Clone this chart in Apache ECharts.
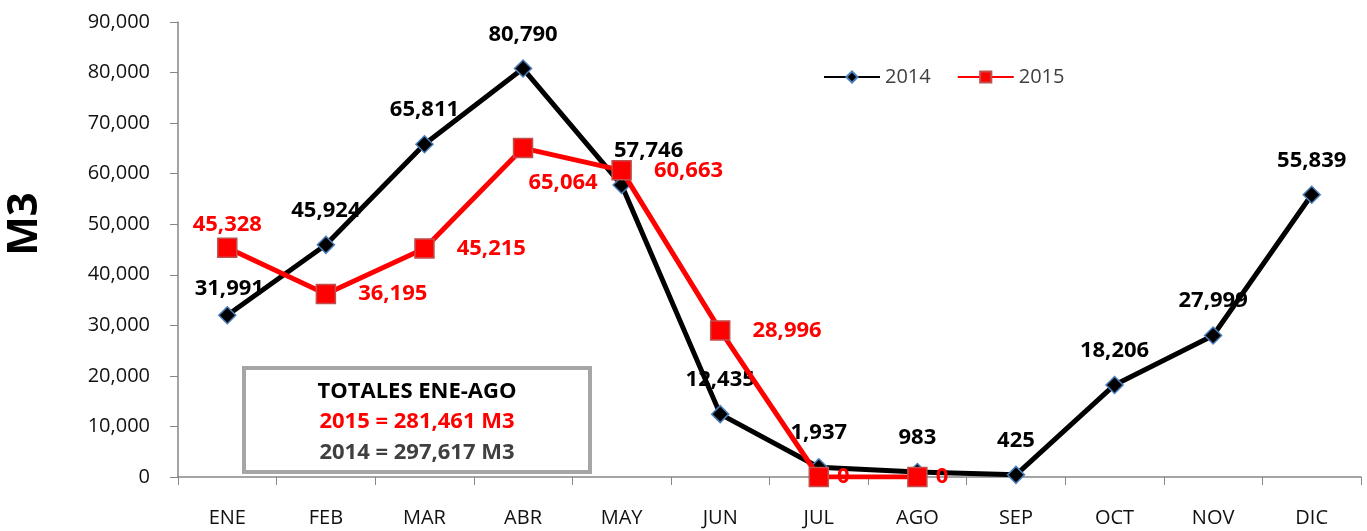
<!DOCTYPE html>
<html>
<head>
<meta charset="utf-8">
<style>
  html, body { margin: 0; padding: 0; background: #fff; }
  #chart { width: 1367px; height: 531px; }
</style>
<script src="https://cdn.jsdelivr.net/npm/echarts@6/dist/echarts.min.js"></script>
</head>
<body>
<div id="chart"></div>
<script>
const months = ["ENE", "FEB", "MAR", "ABR", "MAY", "JUN", "JUL", "AGO", "SEP", "OCT", "NOV", "DIC"];
const values2014 = [31991, 45924, 65811, 80790, 57746, 12435, 1937, 983, 425, 18206, 27999, 55839];
const values2015 = [45328, 36195, 45215, 65064, 60663, 28996, 0, 0];
const yTicks = [0, 10000, 20000, 30000, 40000, 50000, 60000, 70000, 80000, 90000];
const yTitle = "M3";
const totalsTitle = "TOTALES ENE-AGO";
const total2015 = "2015 = 281,461 M3";
const total2014 = "2014 = 297,617 M3";

const fmt = (v) => Number(v).toLocaleString("en-US");

// per-point label tweaks (by index)
const labelFix2014 = {
  0: { offset: [2, 8] },
  4: { offset: [27, 0] }
};
const labelFix2015 = {
  0: { position: "top", distance: 2 },
  3: { position: "bottom", distance: 13, offset: [40, 0] },
  6: { distance: 8 },
  7: { distance: 8 }
};

const data2014 = values2014.map((v, i) =>
  labelFix2014[i] ? { value: v, label: labelFix2014[i] } : v);
const data2015 = values2015.map((v, i) =>
  labelFix2015[i] ? { value: v, label: labelFix2015[i] } : v);

const chart = echarts.init(document.getElementById("chart"));
chart.setOption({
  animation: false,
  textStyle: { fontFamily: "Open Sans" },
  grid: { left: 178, right: 6, top: 22, bottom: 54, containLabel: false, outerBoundsMode: "none" },
  legend: {
    data: ["2014", "2015"],
    left: 818,
    top: 62,
    itemWidth: 56,
    itemHeight: 14,
    itemGap: 26,
    textStyle: { fontSize: 20, color: "#404040", fontFamily: "Open Sans" }
  },
  xAxis: {
    type: "category",
    data: months,
    boundaryGap: true,
    axisLine: { lineStyle: { color: "#868686", width: 1.5 } },
    axisTick: { show: true, length: 8, interval: 0, lineStyle: { color: "#868686" } },
    axisLabel: { fontSize: 20, color: "#111", margin: 31, interval: 0 }
  },
  yAxis: {
    type: "value",
    min: yTicks[0],
    max: yTicks[yTicks.length - 1],
    interval: yTicks[1] - yTicks[0],
    splitLine: { show: false },
    axisLine: { show: true, lineStyle: { color: "#868686", width: 1.5 } },
    axisTick: { show: true, length: 8, lineStyle: { color: "#868686" } },
    axisLabel: { fontSize: 20, color: "#111", margin: 28, formatter: fmt }
  },
  series: [
    {
      name: "2014",
      type: "line",
      data: data2014,
      symbol: "diamond",
      symbolSize: 17,
      itemStyle: { color: "#000", borderColor: "#4a7ebb", borderWidth: 1.5 },
      lineStyle: { color: "#000", width: 5 },
      label: {
        show: true,
        position: "top",
        distance: 14,
        fontSize: 22,
        fontWeight: "bold",
        color: "#000",
        formatter: (p) => fmt(p.value)
      },
      z: 2
    },
    {
      name: "2015",
      type: "line",
      data: data2015,
      symbol: "rect",
      symbolSize: 19,
      itemStyle: { color: "#ff0000", borderColor: "#c0504d", borderWidth: 1.5 },
      lineStyle: { color: "#ff0000", width: 5 },
      label: {
        show: true,
        position: "right",
        distance: 22,
        fontSize: 22,
        fontWeight: "bold",
        color: "#ff0000",
        formatter: (p) => fmt(p.value)
      },
      z: 3
    }
  ],
  graphic: [
    {
      type: "text",
      x: 25,
      y: 224,
      rotation: Math.PI / 2,
      style: { text: yTitle, fill: "#000", font: "bold 42px 'Open Sans'", align: "center", verticalAlign: "middle" }
    },
    {
      type: "group",
      left: 242,
      top: 366,
      z: 10,
      children: [
        {
          type: "rect",
          shape: { x: 0, y: 0, width: 346, height: 104 },
          style: { fill: "#fff", stroke: "#a6a6a6", lineWidth: 4 }
        },
        {
          type: "text",
          x: 173, y: 24,
          style: { text: totalsTitle, fill: "#000", font: "bold 22px 'Open Sans'", align: "center", verticalAlign: "middle" }
        },
        {
          type: "text",
          x: 173, y: 54,
          style: { text: total2015, fill: "#ff0000", font: "bold 22px 'Open Sans'", align: "center", verticalAlign: "middle" }
        },
        {
          type: "text",
          x: 173, y: 85,
          style: { text: total2014, fill: "#404040", font: "bold 22px 'Open Sans'", align: "center", verticalAlign: "middle" }
        }
      ]
    }
  ]
});
</script>
</body>
</html>
